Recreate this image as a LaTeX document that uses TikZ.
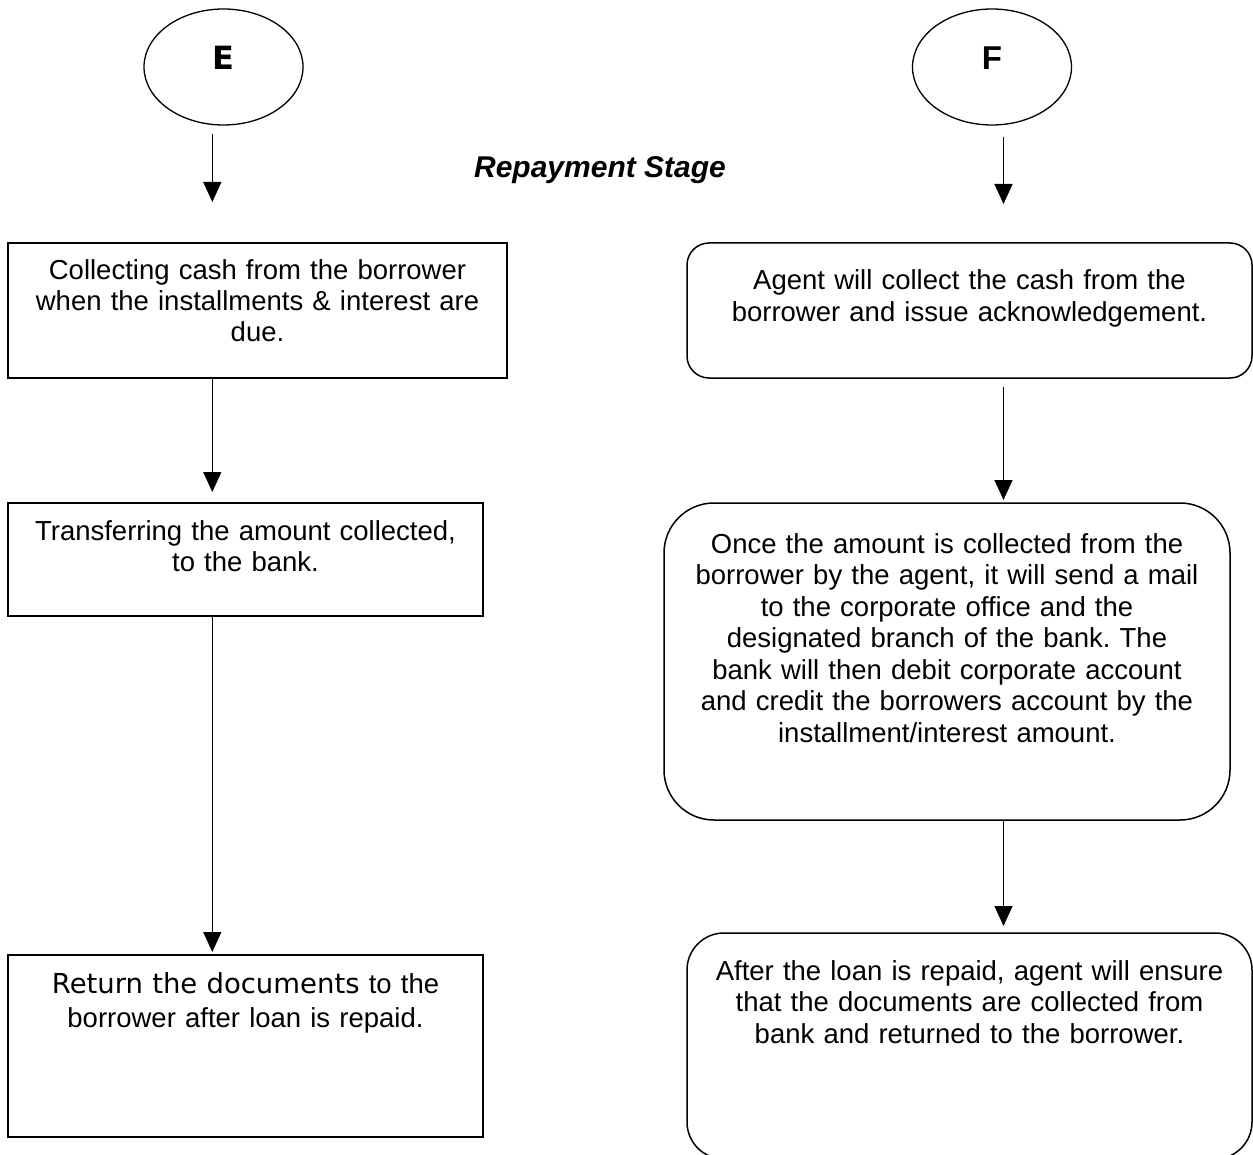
\documentclass[tikz,border=0pt]{standalone}
\usepackage{fontspec}
\setmainfont{Liberation Sans}
\newfontfamily\verdanalike{DejaVu Sans}
\usetikzlibrary{shapes.geometric, arrows.meta, positioning}
\frenchspacing

\begin{document}
\begin{tikzpicture}[
    x=0.5pt, y=-0.5pt,
    connector/.style={ellipse, draw, line width=0.65pt, minimum width=79.5pt, minimum height=58pt, inner sep=0pt, outer sep=0pt},
    process/.style={rectangle, draw, line width=0.9pt, inner sep=0pt, outer sep=0pt, align=center, font=\fontsize{13.75pt}{15.75pt}\selectfont},
    agent/.style={process, line width=0.75pt},
    arrow/.style={-{Triangle[length=10pt, width=9pt]}, line width=0.65pt}
]
    \useasboundingbox (0,0) rectangle (1253,1155);

    \node[connector, font=\verdanalike\bfseries\fontsize{16pt}{19pt}\selectfont, text depth=8.7pt] (E) at (223.5,67) {E};
    \node[connector, font=\bfseries\fontsize{16.5pt}{19pt}\selectfont, text depth=8.8pt] (F) at (992,67) {F};
    \node[font=\bfseries\itshape\fontsize{15pt}{18pt}\selectfont, anchor=base] (stage) at (600,178) {Repayment Stage};

    \node[process, anchor=north west, text width=249.5pt, text height=18pt, text depth=49.5pt] (collect) at (8,243) {Collecting cash from the borrower\\ when the installments \& interest are\\ due.};
    \node[process, below right=62.5pt and 0pt of collect.south west, text width=237.5pt, text height=18.5pt, text depth=38pt] (transfer) {Transferring the amount collected,\\ to the bank.};
    \node[process, below right=169.5pt and 0pt of transfer.south west, text width=237.5pt, text height=19pt, text depth=72pt] (giveback) {{\verdanalike Return the documents }to the\\[1.25pt] borrower after loan is repaid.};

    \node[agent, rounded corners=11pt, anchor=north west, text width=282.5pt, text height=23.5pt, text depth=44pt] (agentcash) at (687,243) {Agent will collect the cash from the\\ borrower and issue acknowledgement.};
    \node[agent, rounded corners=25pt, below right=62.5pt and -11.5pt of agentcash.south west, text width=283pt, text height=25pt, text depth=133.5pt] (mailbank) {Once the amount is collected from the\\ borrower by the agent, it will send a mail\\ to the corporate office and the\\ designated branch of the bank. The\\ bank will then debit corporate account\\ and credit the borrowers account by the\\ installment/interest amount.};
    \node[agent, rounded corners=18.5pt, below right=56.5pt and 11.5pt of mailbank.south west, text width=282.5pt, text height=23.5pt, text depth=89.5pt] (agentdocs) {After the loan is repaid, agent will ensure\\ that the documents are collected from\\ bank and returned to the borrower.};

    \coordinate (lcol) at (212.3,0);
    \coordinate (rcol) at (1003.5,0);

    \draw[arrow, shorten <=4.5pt, shorten >=20.5pt] (E.south -| lcol) -- (collect.north -| lcol);
    \draw[arrow, shorten >=5.5pt] (collect.south -| lcol) -- (transfer.north -| lcol);
    \draw[arrow, shorten >=1.5pt] (transfer.south -| lcol) -- (giveback.north -| lcol);
    \draw[arrow, shorten <=6pt, shorten >=19.5pt] (F.south -| rcol) -- (agentcash.north -| rcol);
    \draw[arrow, shorten <=4.5pt, shorten >=1.5pt] (agentcash.south -| rcol) -- (mailbank.north -| rcol);
    \draw[arrow, shorten >=3.5pt] (mailbank.south -| rcol) -- (agentdocs.north -| rcol);
\end{tikzpicture}
\end{document}
